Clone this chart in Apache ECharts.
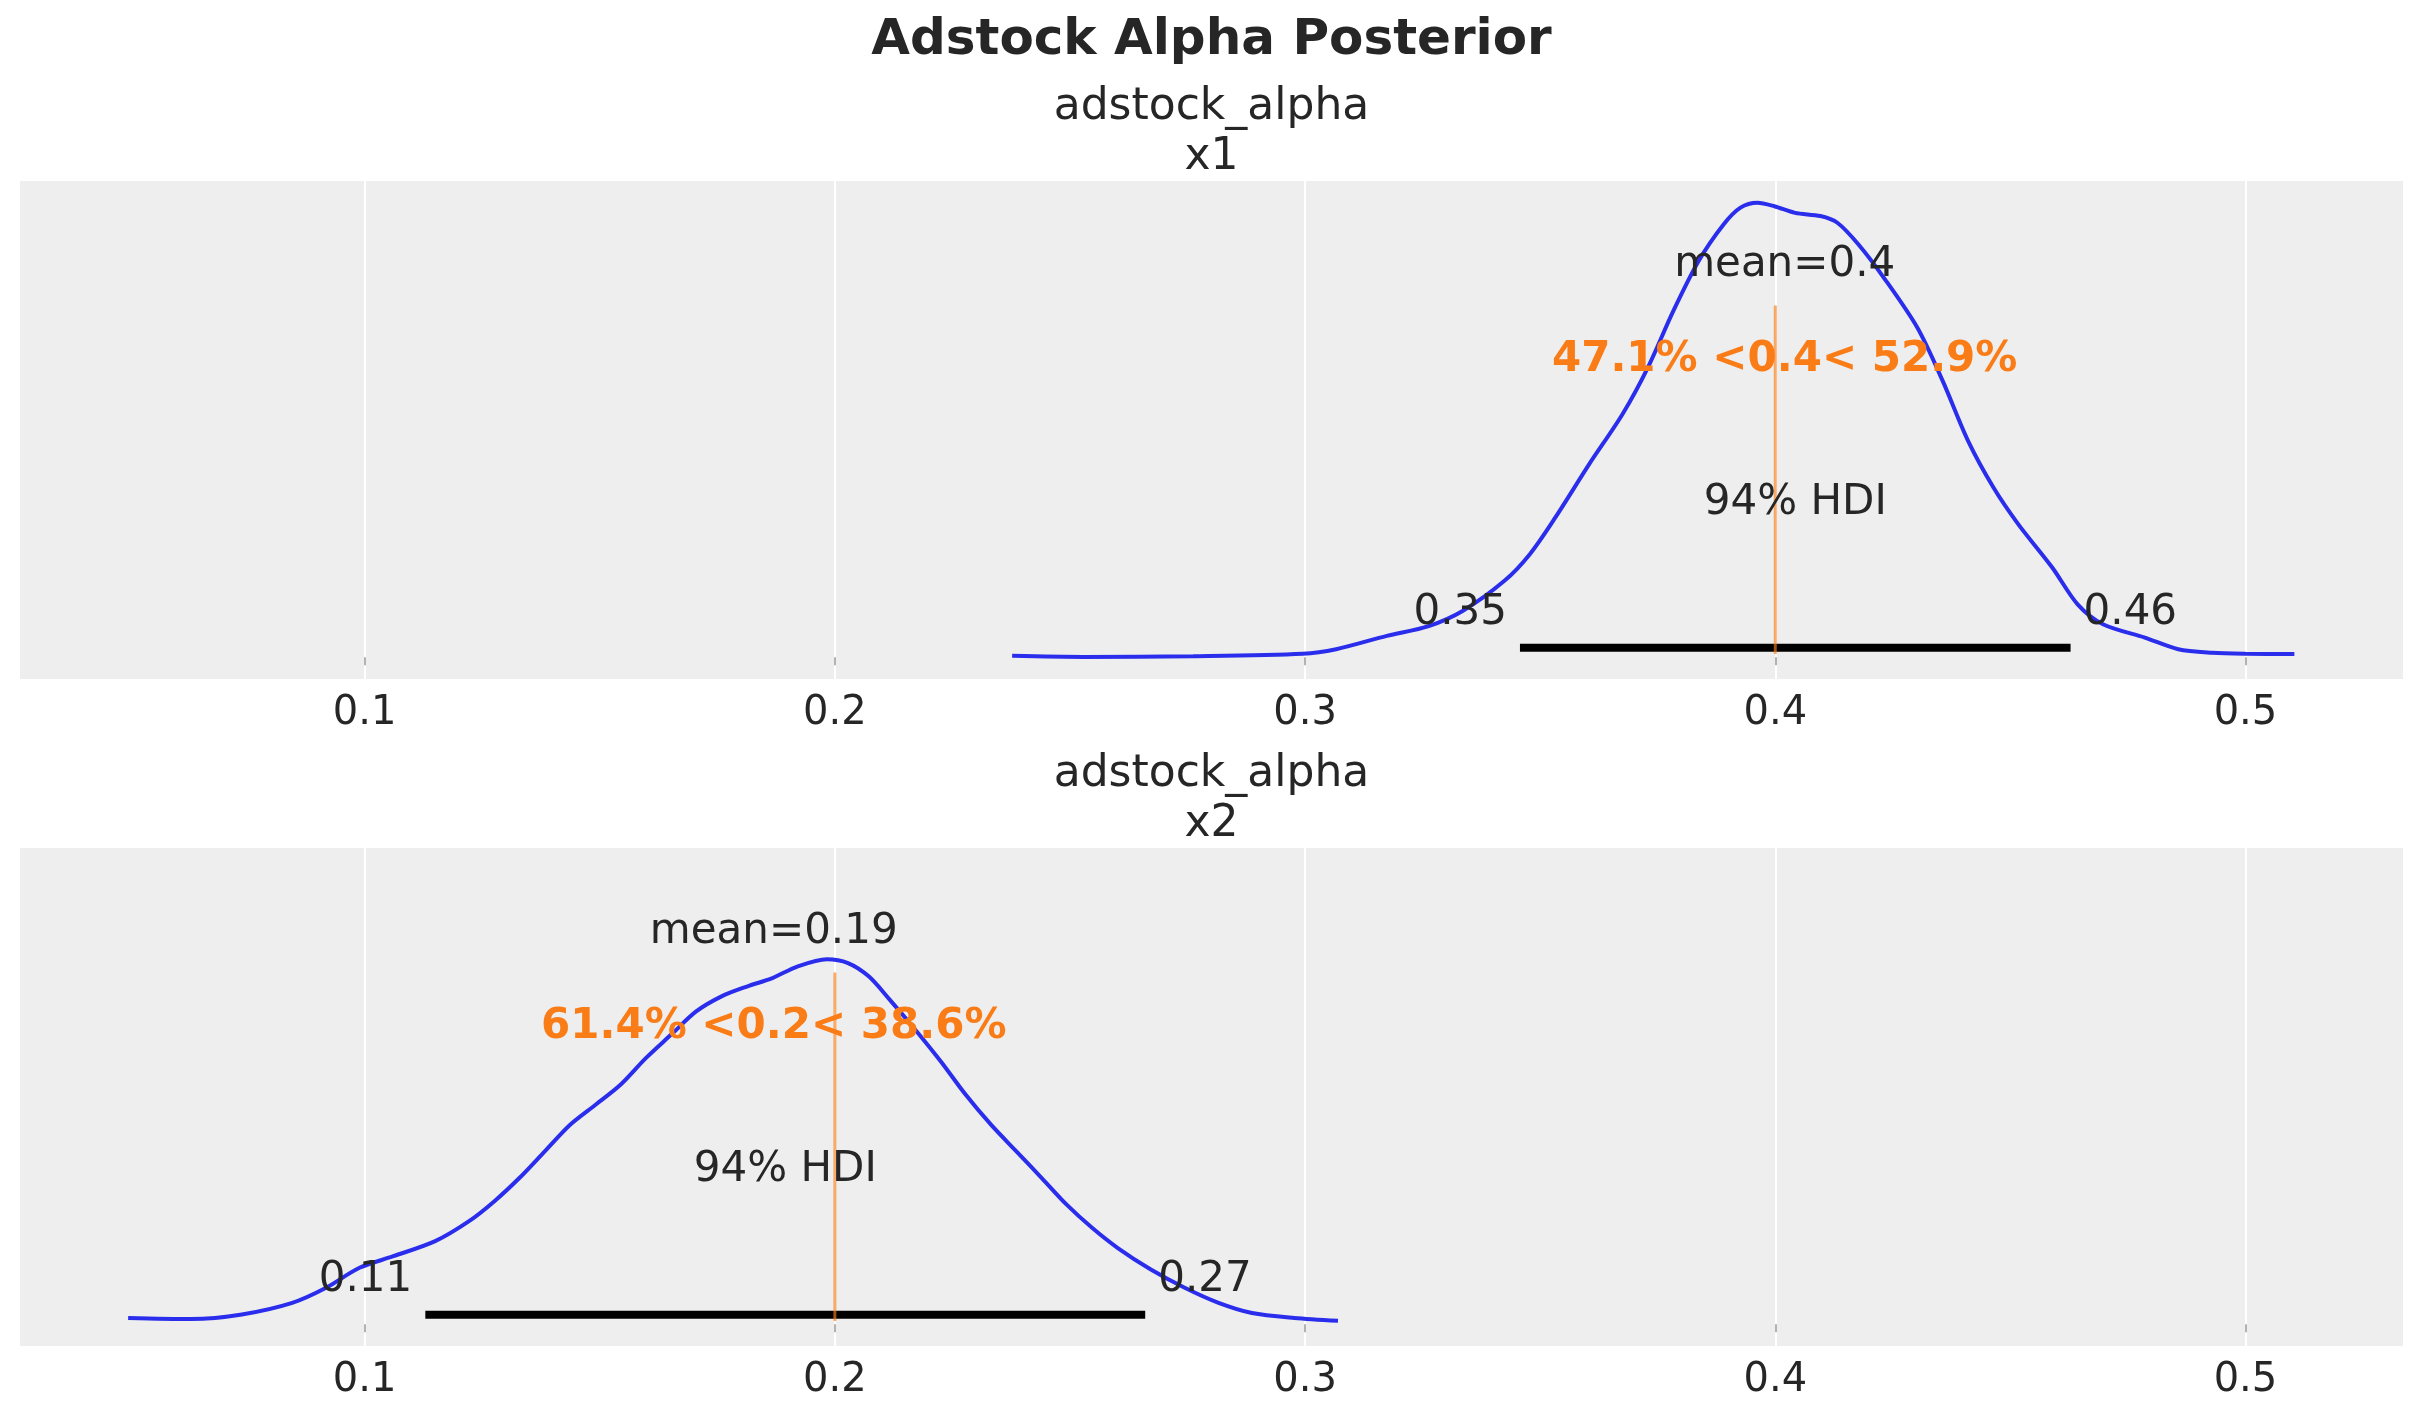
<!DOCTYPE html>
<html>
<head>
<meta charset="utf-8">
<title>Adstock Alpha Posterior</title>
<script src="https://cdn.jsdelivr.net/npm/echarts@6/dist/echarts.min.js"></script>
<style>
  html, body { margin: 0; padding: 0; background: #fff; }
  #chart { width: 2423px; height: 1423px; }
</style>
</head>
<body>
<div id="chart"></div>
<script>
// posterior kde of adstock_alpha, channel x1
var x1Grid = [0.2377, 0.2529, 0.2762, 0.2995, 0.3066, 0.3174, 0.3263, 0.3335, 0.3424, 0.3478,
    0.3532, 0.3604, 0.3675, 0.3729, 0.3783, 0.3837, 0.3890, 0.3926, 0.3962, 0.3998,
    0.4042, 0.4096, 0.4132, 0.4177, 0.4231, 0.4302, 0.4356, 0.4410, 0.4464, 0.4517,
    0.4589, 0.4643, 0.4697, 0.4786, 0.4857, 0.4929, 0.5001, 0.5104];
var x1Density = [0.04, 0.01, 0.03, 0.10, 0.23, 0.61, 0.89, 1.32, 2.18, 2.94,
    3.98, 5.50, 6.93, 8.26, 9.87, 11.30, 12.34, 12.82, 12.96, 12.86,
    12.67, 12.58, 12.39, 11.77, 10.82, 9.40, 7.88, 6.17, 4.84, 3.79,
    2.56, 1.51, 0.94, 0.56, 0.23, 0.13, 0.10, 0.09];

// channel x2
var x2Grid = [0.0497, 0.0631, 0.0739, 0.0846, 0.0918, 0.0989, 0.1061, 0.1150, 0.1222, 0.1276,
    0.1329, 0.1383, 0.1437, 0.1491, 0.1544, 0.1598, 0.1652, 0.1705, 0.1759, 0.1813,
    0.1867, 0.1920, 0.1983, 0.2028, 0.2072, 0.2117, 0.2171, 0.2225, 0.2278, 0.2332,
    0.2386, 0.2440, 0.2493, 0.2547, 0.2601, 0.2672, 0.2744, 0.2816, 0.2887, 0.2977, 0.3070];
var x2Density = [0.18, 0.15, 0.28, 0.61, 1.04, 1.61, 1.94, 2.37, 2.94, 3.51,
    4.17, 4.93, 5.69, 6.26, 6.83, 7.59, 8.26, 8.92, 9.35, 9.63,
    9.87, 10.20, 10.41, 10.30, 9.92, 9.25, 8.40, 7.50, 6.55, 5.69,
    4.93, 4.17, 3.41, 2.75, 2.18, 1.56, 1.04, 0.61, 0.32, 0.18, 0.10];

var panelNames = ['x1', 'x2'];
var means = [0.402, 0.187];
var meanLabels = ['mean=0.4', 'mean=0.19'];
var hdiLow = [0.3457, 0.1129];
var hdiHigh = [0.4628, 0.2660];
var hdiLowLabels = ['0.35', '0.11'];
var hdiHighLabels = ['0.46', '0.27'];
var refVals = [0.4, 0.2];
var refTexts = ['47.1% <0.4< 52.9%', '61.4% <0.2< 38.6%'];
var xTicks = [0.1, 0.2, 0.3, 0.4, 0.5];

var XMIN = 0.0267, XMAX = 0.5335;
var YMIN = -0.62, YMAX = 13.58;

var FONT = '"DejaVu Sans", "Liberation Sans", sans-serif';
var TEXT = '#262626';
var BLUE = '#2a2eec';
var ORANGE = '#fa7c17';

var gridTops = [181, 848];
var panelH = 498;

function pairs(xs, ys) {
    var out = [];
    for (var i = 0; i < xs.length; i++) out.push([xs[i], ys[i]]);
    return out;
}

// matplotlib style axes fraction -> data y
function axesY(f) {
    return YMIN + f * (YMAX - YMIN);
}

var grids = [], xAxes = [], yAxes = [], series = [], graphics = [];

graphics.push({
    type: 'text', left: 'center', top: 16,
    style: { text: 'Adstock Alpha Posterior', font: 'bold 50px ' + FONT, fill: TEXT }
});

var base = { fontFamily: FONT, fontSize: 42, color: TEXT, show: true, verticalAlign: 'middle', opacity: 1 };
function lab(extra) {
    var o = {};
    for (var k in base) o[k] = base[k];
    for (var k2 in extra) o[k2] = extra[k2];
    return o;
}

for (var p = 0; p < 2; p++) {
    grids.push({
        left: 20, right: 20, top: gridTops[p], height: panelH,
        show: true, backgroundColor: '#eeeeee', borderWidth: 0
    });
    xAxes.push({
        type: 'value', gridIndex: p, min: XMIN, max: XMAX,
        axisLine: { show: false },
        axisTick: { show: true, customValues: xTicks, length: 8, lineStyle: { color: '#999999', width: 1.5 } },
        axisLabel: { customValues: xTicks, fontSize: 40, fontFamily: FONT, color: TEXT, margin: 15 },
        splitLine: { show: true, lineStyle: { color: '#ffffff', width: 2 } }
    });
    yAxes.push({
        type: 'value', gridIndex: p, min: YMIN, max: YMAX, show: false,
        splitLine: { show: false }
    });

    graphics.push({
        type: 'text', left: 'center', top: gridTops[p] - 98,
        style: {
            text: 'adstock_alpha\n' + panelNames[p], font: '44px ' + FONT, fill: TEXT,
            textAlign: 'center', lineHeight: 50
        }
    });

    var xs = p === 0 ? x1Grid : x2Grid;
    var ds = p === 0 ? x1Density : x2Density;

    series.push({
        type: 'line', xAxisIndex: p, yAxisIndex: p,
        data: pairs(xs, ds), smooth: 0.3, symbol: 'none',
        lineStyle: { color: BLUE, width: 4 }, z: 2, silent: true
    });

    series.push({
        type: 'line', xAxisIndex: p, yAxisIndex: p,
        data: [[hdiLow[p], YMAX * 0.02], [hdiHigh[p], YMAX * 0.02]],
        symbol: 'none', lineStyle: { color: '#000000', width: 8, cap: 'butt' }, z: 3, silent: true
    });

    series.push({
        type: 'line', xAxisIndex: p, yAxisIndex: p,
        data: [[refVals[p], axesY(0.05)], [refVals[p], axesY(0.75)]],
        symbol: 'none', lineStyle: { color: ORANGE, width: 3, opacity: 0.65 }, z: 4, silent: true
    });

    series.push({
        type: 'scatter', xAxisIndex: p, yAxisIndex: p, symbolSize: 0, z: 5, silent: true,
        itemStyle: { opacity: 1 },
        data: [
            { value: [means[p], YMAX * 0.8], label: lab({ formatter: meanLabels[p], align: 'center', offset: [0, -11] }) },
            { value: [means[p], YMAX * 0.6], label: lab({ formatter: refTexts[p], align: 'center', offset: [0, -11], color: ORANGE, fontWeight: 'bold' }) },
            { value: [(hdiLow[p] + hdiHigh[p]) / 2, YMAX * 0.3], label: lab({ formatter: '94% HDI', align: 'center', offset: [0, -11] }) },
            { value: [hdiLow[p], YMAX * 0.07], label: lab({ formatter: hdiLowLabels[p], align: 'right', offset: [-13, -11] }) },
            { value: [hdiHigh[p], YMAX * 0.07], label: lab({ formatter: hdiHighLabels[p], align: 'left', offset: [13, -11] }) }
        ],
        label: { position: 'inside' }
    });
}

var chart = echarts.init(document.getElementById('chart'));
chart.setOption({
    backgroundColor: '#ffffff',
    animation: false,
    textStyle: { fontFamily: FONT },
    grid: grids,
    xAxis: xAxes,
    yAxis: yAxes,
    series: series,
    graphic: graphics
});
</script>
</body>
</html>
